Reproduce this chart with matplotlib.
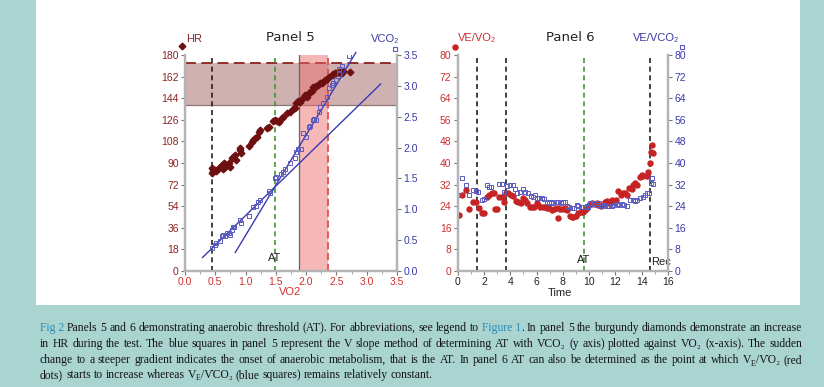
import matplotlib
matplotlib.use("Agg")
import matplotlib.pyplot as plt
import matplotlib.ticker as ticker
from matplotlib.transforms import IdentityTransform
from matplotlib.patches import Rectangle

plt.rcParams['font.family'] = ['Liberation Sans', 'DejaVu Sans']

# ---- Panel 5 data: HR and VCO2 against VO2 ----
hr_vo2 = [0.44, 0.44, 0.47, 0.50, 0.52, 0.55, 0.58, 0.61, 0.62, 0.64, 0.66, 0.69, 0.72,
          0.74, 0.77, 0.80, 0.83, 0.85, 0.90, 0.91, 0.92, 1.05, 1.10, 1.13, 1.16, 1.19,
          1.22, 1.24, 1.36, 1.38, 1.46, 1.49, 1.52, 1.56, 1.60, 1.62, 1.69, 1.73, 1.79,
          1.82, 1.84, 1.86, 1.90, 1.93, 1.98, 2.01, 2.04, 2.06, 2.09, 2.12, 2.15, 2.17,
          2.20, 2.23, 2.26, 2.28, 2.31, 2.34, 2.38, 2.42, 2.45, 2.48, 2.50, 2.55, 2.59,
          2.61, 2.72]
hr = [81.9, 85.5, 83.6, 84.2, 83.6, 84.7, 86.4, 88.3, 84.7, 89.7, 86.9, 88.3, 89.7,
      86.9, 93.9, 95.3, 96.7, 92.5, 100.8, 102.2, 98.6, 104.2, 107.8, 109.2, 110.6, 111.9,
      116.1, 117.5, 118.9, 120.3, 125.3, 125.8, 125.3, 124.4, 127.2, 128.6, 131.4, 132.8, 134.7,
      135.6, 139.7, 141.9, 141.1, 143.1, 146.7, 145.3, 148.6, 149.4, 150.3, 153.6, 153.1, 154.2,
      155.0, 156.4, 156.9, 157.8, 159.2, 159.7, 161.4, 163.3, 164.2, 164.7, 165.3, 166.1, 165.3,
      166.9, 166.1]

vco2_vo2 = [0.45, 0.50, 0.52, 0.57, 0.61, 0.63, 0.66, 0.69, 0.72, 0.74, 0.77, 0.80, 0.81,
            0.91, 0.92, 1.06, 1.13, 1.17, 1.21, 1.24, 1.38, 1.40, 1.48, 1.50, 1.58, 1.62,
            1.65, 1.73, 1.82, 1.83, 1.87, 1.91, 1.95, 2.00, 2.04, 2.06, 2.11, 2.13, 2.17,
            2.22, 2.23, 2.28, 2.34, 2.38, 2.42, 2.45, 2.50, 2.54, 2.55, 2.59, 2.70]
vco2 = [0.38, 0.42, 0.46, 0.49, 0.56, 0.58, 0.57, 0.61, 0.62, 0.58, 0.66, 0.71, 0.72,
        0.82, 0.78, 0.89, 1.04, 1.05, 1.12, 1.15, 1.29, 1.27, 1.50, 1.53, 1.57, 1.61,
        1.65, 1.75, 1.83, 1.93, 1.97, 1.97, 2.24, 2.17, 2.33, 2.35, 2.45, 2.47, 2.45,
        2.58, 2.65, 2.72, 2.82, 2.96, 3.01, 3.04, 3.09, 3.20, 3.28, 3.32, 3.48]

fit1_vo2 = [0.29, 3.23]
fit1_vco2 = [0.22, 3.03]
fit2_vo2 = [0.83, 2.82]
fit2_vco2 = [0.30, 3.54]

hr_band = [138.5, 173.0]
vo2_band = [1.88, 2.36]
p5_start = 0.44
p5_at = 1.48

# ---- Panel 6 data: ventilatory equivalents against time ----
t_red = [0.12, 0.30, 0.63, 0.89, 1.19, 1.39, 1.65, 1.82, 2.00, 2.21, 2.41, 2.59, 2.76,
         2.84, 2.97, 3.17, 3.35, 3.55, 3.68, 3.85, 4.03, 4.23, 4.44, 4.61, 4.79, 5.00,
         5.12, 5.30, 5.50, 5.63, 5.81, 6.01, 6.14, 6.26, 6.47, 6.64, 6.77, 6.97, 7.15,
         7.33, 7.53, 7.66, 7.79, 7.99, 8.17, 8.34, 8.55, 8.67, 8.80, 9.00, 9.18, 9.36,
         9.56, 9.69, 9.82, 10.02, 10.20, 10.32, 10.58, 10.70, 10.88, 11.03, 11.21, 11.34,
         11.54, 11.72, 11.84, 12.05, 12.22, 12.40, 12.55, 12.73, 12.86, 13.06, 13.24, 13.37,
         13.52, 13.67, 13.87, 14.00, 14.13, 14.38, 14.51, 14.64, 14.69, 14.76, 14.89]
ve_vo2 = [20.7, 28.2, 30.0, 22.8, 25.7, 25.7, 23.2, 21.4, 21.4, 27.5, 28.2, 28.8, 28.8,
          22.8, 22.8, 27.5, 27.5, 25.7, 29.0, 28.8, 28.2, 27.8, 26.1, 25.7, 25.3, 26.9,
          26.3, 25.3, 23.8, 23.6, 23.8, 25.3, 24.4, 23.8, 23.6, 23.6, 23.2, 23.2, 22.6,
          23.0, 23.2, 19.5, 23.0, 23.0, 23.2, 22.6, 20.4, 20.1, 20.1, 20.4, 21.4, 22.0,
          22.0, 22.6, 23.2, 24.4, 25.3, 24.8, 25.1, 24.4, 24.1, 24.4, 25.7, 25.9,
          25.1, 26.3, 25.7, 26.3, 29.6, 28.2, 28.8, 29.0, 28.2, 30.6, 30.2, 31.9,
          32.5, 31.9, 34.9, 35.6, 35.2, 35.2, 36.8, 39.9, 44.2, 46.7, 43.8]

t_blue = [0.12, 0.30, 0.63, 0.89, 1.19, 1.39, 1.57, 1.82, 2.00, 2.21, 2.41, 2.51, 3.17,
          3.35, 3.55, 3.78, 3.98, 4.18, 4.36, 4.54, 4.74, 4.94, 5.12, 5.38, 5.55, 5.71,
          5.88, 6.06, 6.21, 6.39, 6.59, 6.82, 6.97, 7.07, 7.28, 7.48, 7.66, 7.83, 8.04,
          8.17, 8.34, 8.50, 8.67, 8.85, 9.05, 9.18, 9.36, 9.51, 9.69, 9.82, 9.94, 10.07,
          10.27, 10.45, 10.63, 10.78, 10.96, 11.13, 11.34, 11.54, 11.72, 11.89, 12.10, 12.30,
          12.48, 12.66, 12.86, 13.11, 13.32, 13.49, 13.67, 13.87, 14.08, 14.25, 14.43, 14.58,
          14.74, 14.81, 14.89]
ve_vco2 = [28.2, 34.3, 31.9, 28.2, 30.0, 29.6, 29.4, 26.3, 26.5, 31.9, 31.2, 31.2, 32.2,
           32.2, 29.4, 31.5, 31.9, 31.9, 30.3, 29.0, 29.4, 30.3, 29.4, 29.0, 27.8, 27.5,
           28.2, 26.9, 26.9, 26.9, 26.5, 25.7, 25.3, 25.7, 25.1, 25.7, 25.7, 25.3, 25.7,
           25.7, 24.1, 23.6, 23.2, 23.2, 24.4, 24.1, 23.6, 23.6, 23.6, 24.1, 23.6, 25.1,
           24.8, 25.1, 24.4, 25.1, 24.1, 24.4, 24.1, 24.1, 24.1, 24.4, 24.8, 24.4,
           24.8, 24.4, 24.1, 26.3, 26.3, 26.1, 26.3, 26.9, 27.5, 28.2, 28.8, 29.0,
           32.7, 34.3, 32.2]

p6_black = [1.49, 3.68, 14.66]
p6_at = 9.61

# colours
teal = '#a9d4d0'
burgundy = '#6e1010'
dkred = '#8b2424'
red = '#cc3030'
blue = '#3b3ba8'
sq_blue = '#5a5ac0'
grey = '#b4b4b4'
green = '#3e9a2c'

W, H = 824, 387
fig = plt.figure(figsize=(W / 100, H / 100), dpi=100, facecolor=teal)
fig.add_artist(Rectangle((36 / W, 82 / H), (800 - 36) / W, 1 - 82 / H,
                         transform=fig.transFigure, facecolor='white', edgecolor='none', zorder=0))


def px_axes(x0, x1, y0, y1):
    return fig.add_axes([x0 / W, (H - y1) / H, (x1 - x0) / W, (y1 - y0) / H])


def style_axis(a):
    for s in ['left', 'right', 'bottom']:
        a.spines[s].set_color(grey)
        a.spines[s].set_linewidth(1.6)
    a.spines['top'].set_visible(False)
    a.tick_params(direction='out', length=3, width=0.8, color='#777777', labelsize=7.5, pad=1.5)
    a.tick_params(which='minor', direction='out', length=2, width=0.6, color='#999999')
    a.set_facecolor('none')


# ================= Panel 5 =================
ax5 = px_axes(185, 397, 55, 271)
ax5r = ax5.twinx()
style_axis(ax5)
style_axis(ax5r)

ax5.set_xlim(0, 3.5)
ax5.set_ylim(0, 180)
ax5r.set_ylim(0, 3.5)
ax5.xaxis.set_major_locator(ticker.MultipleLocator(0.5))
ax5.xaxis.set_minor_locator(ticker.MultipleLocator(0.25))
ax5.xaxis.set_major_formatter(ticker.FormatStrFormatter('%.1f'))
ax5.yaxis.set_major_locator(ticker.MultipleLocator(18))
ax5r.yaxis.set_major_locator(ticker.MultipleLocator(0.5))
ax5r.yaxis.set_major_formatter(ticker.FormatStrFormatter('%.1f'))
ax5.tick_params(axis='x', labelcolor=red)
ax5.tick_params(axis='y', labelcolor=dkred)
ax5r.tick_params(axis='y', labelcolor=blue)

# bands
ax5.axhspan(hr_band[0], hr_band[1], facecolor='#d0b1b1', edgecolor='none', zorder=1)
ax5.axhline(hr_band[1], color='#8b2020', lw=1.3, ls=(0, (6, 3)), zorder=2)
ax5.axhline(hr_band[0], color='#8a7676', lw=0.9, zorder=2)
ax5.axvspan(vo2_band[0], vo2_band[1], facecolor='#ee6a6a', alpha=0.48, edgecolor='none', zorder=2)
ax5.axvline(vo2_band[0], color='#666666', lw=0.9, zorder=3)
ax5.axvline(vo2_band[1], color='#dd4f4f', lw=1.3, ls=(0, (4, 2)), zorder=3)

ax5.axvline(p5_start, color='#222222', lw=1.2, ls=(0, (3, 2.2)), zorder=3)
ax5.axvline(p5_at, color=green, lw=1.2, ls=(0, (3, 2.2)), zorder=3)
ax5.text(p5_at, 11, 'AT', ha='center', va='center', fontsize=8, color='#222222', zorder=4)

ax5.plot(hr_vo2, hr, ls='none', marker='D', ms=3.4, color=burgundy, mec=burgundy, zorder=5)

ax5r.plot(fit1_vo2, fit1_vco2, color='#3a3ab0', lw=1.0, clip_on=False)
ax5r.plot(fit2_vo2, fit2_vco2, color='#3a3ab0', lw=1.0, clip_on=False)
ax5r.plot(vco2_vo2, vco2, ls='none', marker='s', ms=3.4, mfc='none', mec=sq_blue, mew=0.7)

ax5.text(0.495, 1.083, 'Panel 5', transform=ax5.transAxes, ha='center', va='center',
         fontsize=9.5, family=['DejaVu Sans'], color='#222222')
ax5.text(0.005, 1.075, 'HR', transform=ax5.transAxes, ha='left', va='center', fontsize=8, color=dkred)
ax5.plot([-0.014], [1.042], transform=ax5.transAxes, marker='D', ms=3.4, color=burgundy, clip_on=False)
ax5.text(0.945, 1.075, 'VCO₂', transform=ax5.transAxes, ha='center', va='center', fontsize=8, color=blue)
ax5.plot([0.99], [1.028], transform=ax5.transAxes, marker='s', ms=3, mfc='none', mec=sq_blue,
         mew=0.8, clip_on=False)
ax5.text(0.495, -0.097, 'VO2', transform=ax5.transAxes, ha='center', va='center', fontsize=8, color=red)

# ================= Panel 6 =================
ax6 = px_axes(457.7, 668, 55, 271)
ax6r = ax6.twinx()
style_axis(ax6)
style_axis(ax6r)
ax6.set_xlim(0, 16)
ax6.set_ylim(0, 80)
ax6r.set_ylim(0, 80)
ax6.xaxis.set_major_locator(ticker.MultipleLocator(2))
ax6.xaxis.set_minor_locator(ticker.MultipleLocator(1))
ax6.yaxis.set_major_locator(ticker.MultipleLocator(8))
ax6r.yaxis.set_major_locator(ticker.MultipleLocator(8))
ax6.tick_params(axis='x', labelcolor='#222222')
ax6.tick_params(axis='y', labelcolor=red)
ax6r.tick_params(axis='y', labelcolor=blue)

for t in p6_black:
    ax6.axvline(t, color='#222222', lw=1.2, ls=(0, (3, 2.2)), zorder=2)
ax6.axvline(p6_at, color=green, lw=1.2, ls=(0, (3, 2.2)), zorder=2)
ax6.text(p6_at, 4, 'AT', ha='center', va='center', fontsize=8, color='#222222')
ax6.text(15.45, 3.5, 'Rec', ha='center', va='center', fontsize=8, color='#222222')

ax6.plot(t_red, ve_vo2, ls='none', marker='o', ms=3.6, color='#c62424', zorder=4)
ax6r.plot(t_blue, ve_vco2, ls='none', marker='s', ms=3.4, mfc='none', mec=sq_blue, mew=0.7)

ax6.text(0.534, 1.083, 'Panel 6', transform=ax6.transAxes, ha='center', va='center',
         fontsize=9.5, family=['DejaVu Sans'], color='#222222')
ax6.text(0.0, 1.079, 'VE/VO₂', transform=ax6.transAxes, ha='left', va='center', fontsize=8, color=red)
ax6.plot([-0.013], [1.037], transform=ax6.transAxes, marker='o', ms=3.6, color='#c62424', clip_on=False)
ax6.text(0.943, 1.079, 'VE/VCO₂', transform=ax6.transAxes, ha='center', va='center', fontsize=8, color=blue)
ax6.plot([1.068], [1.037], transform=ax6.transAxes, marker='s', ms=3, mfc='none', mec=sq_blue,
         mew=0.8, clip_on=False)
ax6.text(0.486, -0.102, 'Time', transform=ax6.transAxes, ha='center', va='center', fontsize=8,
         color='#222222')

# ================= Caption =================
# words; "_X" marks a one-letter subscript, "|" joins a word to the previous one
ink = '#151515'
link = '#2a8cb8'
cap_text = [
    "Fig 2 Panels 5 and 6 demonstrating anaerobic threshold (AT). For abbreviations, see legend "
    "to Figure 1 |. In panel 5 the burgundy diamonds demonstrate an increase",
    "in HR during the test. The blue squares in panel 5 represent the V slope method of "
    "determining AT with V̇CO₂ (y axis) plotted against V̇O₂ (x-axis). The sudden",
    "change to a steeper gradient indicates the onset of anaerobic metabolism, that is the AT. "
    "In panel 6 AT can also be determined as the point at which V_E/V̇O₂ (red",
    "dots) starts to increase whereas V_E/V̇CO₂ (blue squares) remains relatively constant.",
]
cap_links = ['Fig 2', 'Figure 1']
cap_x0, cap_x1 = 40, 802
cap_base = [56, 40, 24, 9]
cap_fs = 8.4

renderer = fig.canvas.get_renderer()


def make_word(word, color, y):
    segs, buf, i = [], '', 0
    while i < len(word):
        if word[i] == '_' and i + 1 < len(word):
            if buf:
                segs.append((buf, False))
                buf = ''
            segs.append((word[i + 1], True))
            i += 2
        else:
            buf += word[i]
            i += 1
    if buf:
        segs.append((buf, False))
    arts = []
    for s, sub in segs:
        t = fig.text(0, y - (2.5 if sub else 0), s, color=color,
                     fontsize=cap_fs * (0.68 if sub else 1.0),
                     family=['Liberation Serif', 'DejaVu Serif'],
                     va='baseline', ha='left', transform=IdentityTransform())
        arts.append(t)
    widths = [a.get_window_extent(renderer).width for a in arts]
    return arts, widths


for i, line in enumerate(cap_text):
    # split into words, keeping link phrases together
    words = []
    rest = line
    for lk in cap_links:
        rest = rest.replace(lk, lk.replace(' ', '\u00a0'))
    for w in rest.split(' '):
        joined = w.startswith('|')
        w = w.lstrip('|').replace('\u00a0', ' ')
        color = link if w in cap_links else ink
        words.append((w, color, joined))
    items = [make_word(w, c, cap_base[i]) for w, c, _ in words]
    total = sum(sum(ws) for _, ws in items)
    n_gaps = sum(1 for k in range(1, len(words)) if not words[k][2])
    if i < len(cap_text) - 1:
        gap = (cap_x1 - cap_x0 - total) / n_gaps
    else:
        gap = cap_fs * 1.389 * 0.25
    x = cap_x0
    for k, (arts, ws) in enumerate(items):
        if k > 0 and not words[k][2]:
            x += gap
        for a, wdt in zip(arts, ws):
            a.set_x(x)
            x += wdt

fig.savefig('out.png', dpi=100, facecolor=teal)
